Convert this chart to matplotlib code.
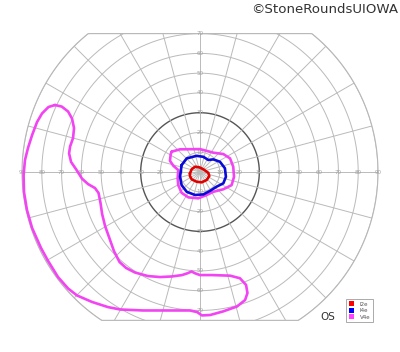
import numpy as np
import matplotlib.pyplot as plt
from matplotlib.patches import Polygon, Patch

# isopters, in degrees (x = temporal/nasal, y = superior/inferior)
i2e_x = [-5.1, -4.2, -2.5, -0.4, 1.7, 4.2, 4.7, 3.4, 0.9, -1.7, -4.2, -5.1]
i2e_y = [-0.7, 1.4, 2.7, 2.4, 1.4, -0.4, -2.0, -4.0, -5.2, -4.9, -3.7, -2.0]

i4e_x = [-9.3, -6.7, -1.7, 1.7, 4.2, 6.7, 10.1, 12.6, 13.1, 11.8, 8.4, 5.1, 1.7, -2.5, -6.7, -9.3, -10.1]
i4e_y = [3.5, 6.9, 8.2, 7.7, 6.1, 6.4, 5.2, 1.9, -2.4, -5.7, -7.4, -9.5, -11.3, -11.6, -10.0, -6.6, -2.4]

v4e_x = [-14.3, -10.1, 0.0, 6.7, 11.8, 15.2, 16.8, 17.2, 16.0, 11.8, 6.7, 3.4, -0.9,
         -5.9, -9.3, -11.0, -11.3, -11.0, -13.5, -15.2, -14.8]
v4e_y = [10.3, 11.5, 11.6, 9.8, 9.1, 6.9, 2.7, -2.4, -6.6, -8.7, -10.0, -11.6, -13.3,
         -12.8, -10.5, -6.6, -3.2, 1.0, 3.2, 5.7, 9.1]

# peripheral V4e island
isl_x = [-73.3, -69.9, -66.7, -64.7, -63.7, -64.2, -65.7, -66.2, -65.2, -62.4, -59.7,
         -56.6, -53.1, -51.3, -50.3, -49.5, -48.0, -46.0, -43.5, -40.7, -37.4, -32.9,
         -26.3, -20.2, -14.2, -9.1, -6.1, -4.3, -2.5, 0.0, 6.1, 15.2, 20.2, 23.3, 24.0,
         22.8, 18.7, 11.6, 5.1, 1.0, -1.5, -5.1, -15.2, -28.8, -40.4, -46.5, -54.6,
         -62.2, -66.7, -71.8, -76.8, -80.4, -84.9, -87.5, -89.0, -89.2, -88.5, -87.0,
         -84.9, -82.4, -79.9, -76.6]
isl_y = [33.9, 33.1, 30.6, 27.0, 22.2, 17.2, 12.9, 9.4, 5.1, 1.0, -3.3,
         -6.1, -8.1, -10.6, -15.7, -21.2, -27.3, -32.9, -40.0, -45.5, -48.5, -50.8,
         -52.6, -53.1, -52.8, -52.1, -51.1, -50.3, -51.2, -52.1, -52.1, -52.4, -53.7,
         -57.1, -61.2, -64.7, -68.0, -70.5, -72.3, -72.5, -70.8, -70.0, -70.0, -70.0,
         -69.5, -68.3, -65.7, -62.4, -58.9, -53.1, -45.0, -38.4, -28.3, -19.2, -10.1,
         -1.5, 6.1, 12.1, 18.7, 25.3, 29.6, 32.9]

rings = [10, 20, 30, 40, 50, 60, 70, 80, 90]
meridians = np.arange(0, 360, 15)
top_lim, bot_lim = 70, -75

fig = plt.figure(figsize=(4.0, 3.52), dpi=100)
ax = fig.add_axes([0, 0, 1, 1])
ax.set_xlim(-101.1, 101.1)
ax.set_ylim(-91.0, 87.0)
ax.set_aspect('equal')
ax.axis('off')

# chart boundary: 90 deg circle cut by the upper and lower chords
t = np.linspace(0, 2 * np.pi, 721)
bx = 90 * np.cos(t)
by = np.clip(90 * np.sin(t), bot_lim, top_lim)
clip = Polygon(np.column_stack([bx, by]), closed=True, transform=ax.transData,
               facecolor='none', edgecolor='#b5b5b5', lw=0.8)
ax.add_patch(clip)

grid = '#bababa'
for r in rings:
    col, lw = (grid, 0.7) if r != 30 else ('#555555', 1.0)
    ln, = ax.plot(r * np.cos(t), r * np.sin(t), color=col, lw=lw, zorder=1)
    ln.set_clip_path(clip)
for a in meridians:
    ln, = ax.plot([0, 100 * np.cos(np.radians(a))], [0, 100 * np.sin(np.radians(a))],
                  color=grid, lw=0.7, zorder=1)
    ln.set_clip_path(clip)

# scale numbers along the axes
lab = dict(fontsize=4, color='#a0a0a0', ha='center', va='center', zorder=2)
for r in rings:
    ax.text(-r, 0, str(r), **lab)
    ax.text(r, 0, str(r), **lab)
    if r <= 70:
        ax.text(0, r, str(r), **lab)
        ax.text(0, -r, str(r), **lab)


def closed(xs, ys):
    return xs + xs[:1], ys + ys[:1]


kw = dict(lw=1.9, solid_joinstyle='round', solid_capstyle='round', zorder=3)
ax.plot(*closed(isl_x, isl_y), color='#f244f2', **kw)
ax.plot(*closed(v4e_x, v4e_y), color='#f244f2', **kw)
ax.plot(*closed(i4e_x, i4e_y), color='#0a0ad8', **kw)
ax.plot(*closed(i2e_x, i2e_y), color='#e00000', **kw)

ax.text(64.7, -73.2, 'OS', fontsize=7.5, color='#333333', ha='center', va='center')

handles = [Patch(facecolor='#ff0000', edgecolor='none', label='I2e'),
           Patch(facecolor='#0000ff', edgecolor='none', label='I4e'),
           Patch(facecolor='#ff44ff', edgecolor='none', label='V4e')]
leg = ax.legend(handles=handles, loc='center', bbox_to_anchor=(0.899, 0.118),
                fontsize=4, handlelength=1.0, handleheight=1.0, handletextpad=1.0,
                labelspacing=0.2, borderpad=0.45, fancybox=False, framealpha=1)
leg.get_frame().set_edgecolor('#aaaaaa')
leg.get_frame().set_linewidth(0.7)
for tx in leg.get_texts():
    tx.set_color('#555555')

fig.text(0.995, 0.974, '\u00a9StoneRoundsUIOWA', fontsize=9.6, color='#333333',
         ha='right', va='center')

fig.savefig('out.png', dpi=100)
